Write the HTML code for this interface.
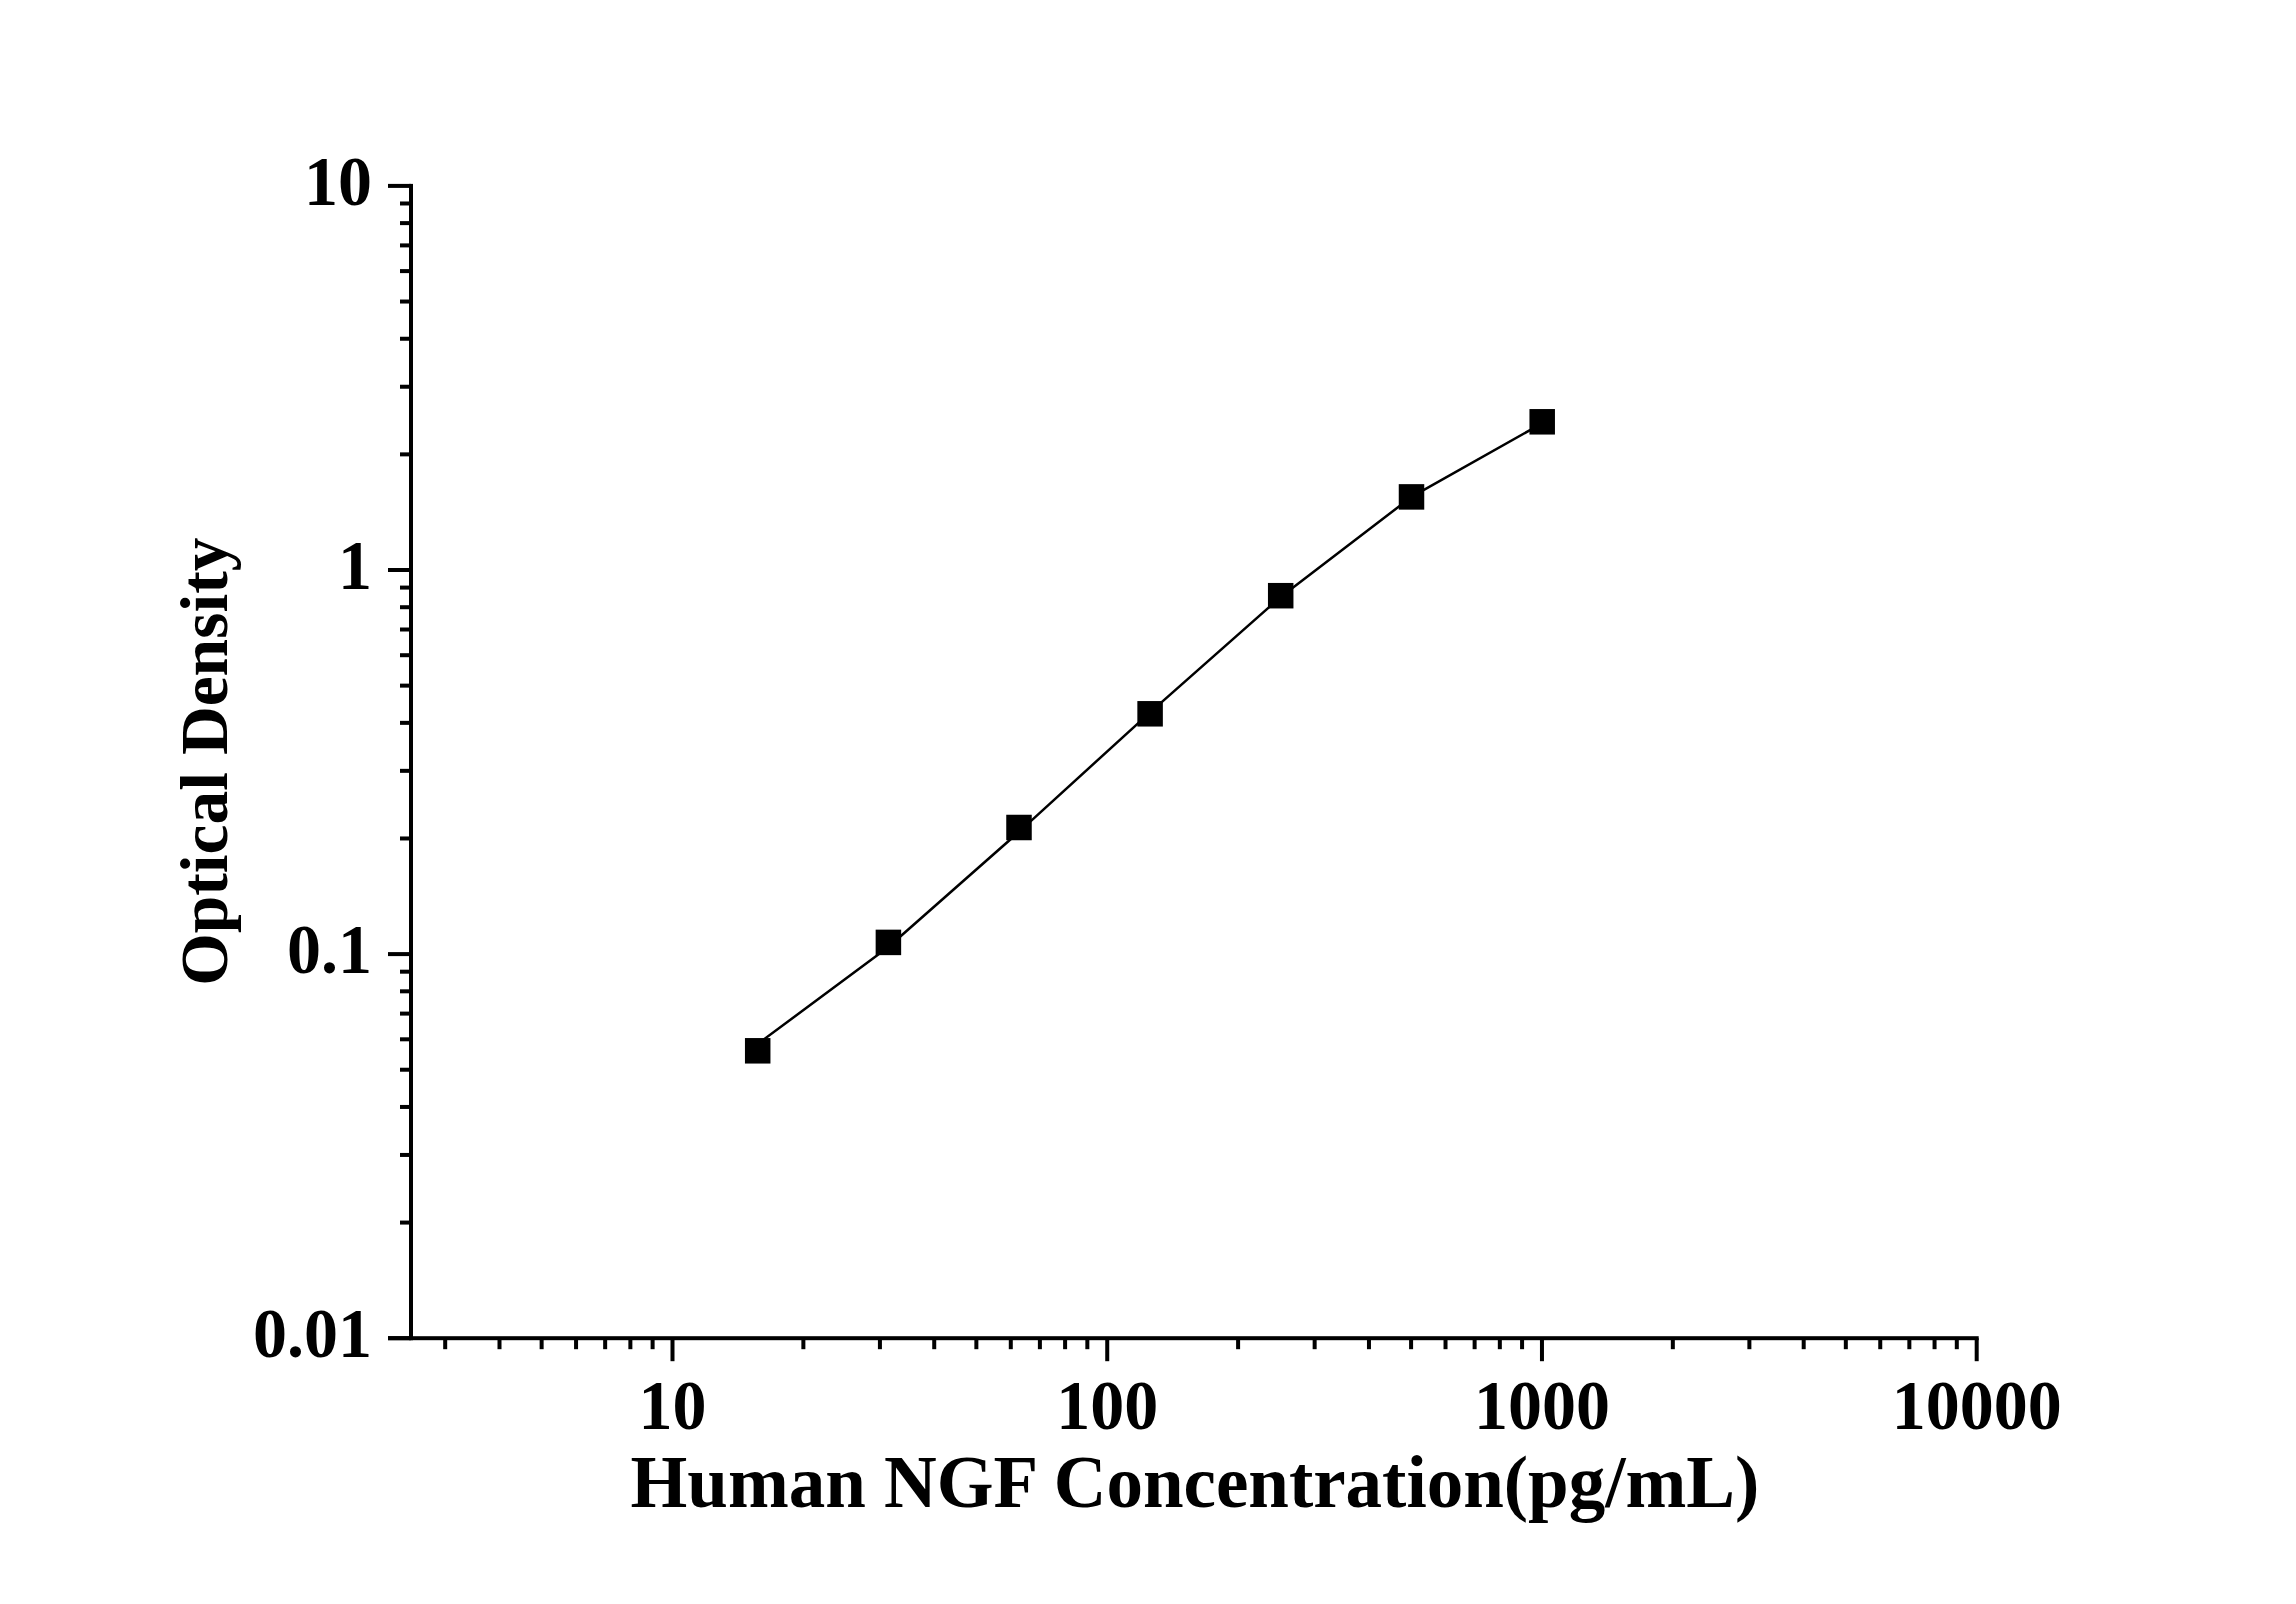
<!DOCTYPE html>
<html><head><meta charset="utf-8"><style>
html,body{margin:0;padding:0;background:#fff;overflow:hidden}
svg{display:block}
text{font-family:"Liberation Serif",serif;font-weight:bold}
</style></head><body>
<svg width="2296" height="1604" viewBox="0 0 2296 1604">
<rect width="2296" height="1604" fill="#fff"/>
<g fill="#000">
<rect x="409.00" y="183.90" width="4" height="1156.30"/>
<rect x="388.00" y="1336.20" width="1590.69" height="4"/>
<rect x="388.00" y="1336.20" width="23" height="4"/>
<rect x="400.00" y="1220.57" width="11" height="4"/>
<rect x="400.00" y="1152.94" width="11" height="4"/>
<rect x="400.00" y="1104.95" width="11" height="4"/>
<rect x="400.00" y="1067.73" width="11" height="4"/>
<rect x="400.00" y="1037.31" width="11" height="4"/>
<rect x="400.00" y="1011.60" width="11" height="4"/>
<rect x="400.00" y="989.32" width="11" height="4"/>
<rect x="400.00" y="969.68" width="11" height="4"/>
<rect x="388.00" y="952.10" width="23" height="4"/>
<rect x="400.00" y="836.47" width="11" height="4"/>
<rect x="400.00" y="768.84" width="11" height="4"/>
<rect x="400.00" y="720.85" width="11" height="4"/>
<rect x="400.00" y="683.63" width="11" height="4"/>
<rect x="400.00" y="653.21" width="11" height="4"/>
<rect x="400.00" y="627.50" width="11" height="4"/>
<rect x="400.00" y="605.22" width="11" height="4"/>
<rect x="400.00" y="585.58" width="11" height="4"/>
<rect x="388.00" y="568.00" width="23" height="4"/>
<rect x="400.00" y="452.37" width="11" height="4"/>
<rect x="400.00" y="384.74" width="11" height="4"/>
<rect x="400.00" y="336.75" width="11" height="4"/>
<rect x="400.00" y="299.53" width="11" height="4"/>
<rect x="400.00" y="269.11" width="11" height="4"/>
<rect x="400.00" y="243.40" width="11" height="4"/>
<rect x="400.00" y="221.12" width="11" height="4"/>
<rect x="400.00" y="201.48" width="11" height="4"/>
<rect x="388.00" y="183.90" width="23" height="4"/>
<rect x="443.19" y="1338.20" width="4" height="11"/>
<rect x="497.50" y="1338.20" width="4" height="11"/>
<rect x="539.63" y="1338.20" width="4" height="11"/>
<rect x="574.06" y="1338.20" width="4" height="11"/>
<rect x="603.16" y="1338.20" width="4" height="11"/>
<rect x="628.37" y="1338.20" width="4" height="11"/>
<rect x="650.61" y="1338.20" width="4" height="11"/>
<rect x="670.50" y="1338.20" width="4" height="23"/>
<rect x="801.37" y="1338.20" width="4" height="11"/>
<rect x="877.92" y="1338.20" width="4" height="11"/>
<rect x="932.23" y="1338.20" width="4" height="11"/>
<rect x="974.36" y="1338.20" width="4" height="11"/>
<rect x="1008.79" y="1338.20" width="4" height="11"/>
<rect x="1037.89" y="1338.20" width="4" height="11"/>
<rect x="1063.10" y="1338.20" width="4" height="11"/>
<rect x="1085.34" y="1338.20" width="4" height="11"/>
<rect x="1105.23" y="1338.20" width="4" height="23"/>
<rect x="1236.10" y="1338.20" width="4" height="11"/>
<rect x="1312.65" y="1338.20" width="4" height="11"/>
<rect x="1366.96" y="1338.20" width="4" height="11"/>
<rect x="1409.09" y="1338.20" width="4" height="11"/>
<rect x="1443.52" y="1338.20" width="4" height="11"/>
<rect x="1472.62" y="1338.20" width="4" height="11"/>
<rect x="1497.83" y="1338.20" width="4" height="11"/>
<rect x="1520.07" y="1338.20" width="4" height="11"/>
<rect x="1539.96" y="1338.20" width="4" height="23"/>
<rect x="1670.83" y="1338.20" width="4" height="11"/>
<rect x="1747.38" y="1338.20" width="4" height="11"/>
<rect x="1801.69" y="1338.20" width="4" height="11"/>
<rect x="1843.82" y="1338.20" width="4" height="11"/>
<rect x="1878.25" y="1338.20" width="4" height="11"/>
<rect x="1907.35" y="1338.20" width="4" height="11"/>
<rect x="1932.56" y="1338.20" width="4" height="11"/>
<rect x="1954.80" y="1338.20" width="4" height="11"/>
<rect x="1974.69" y="1338.20" width="4" height="23"/>
<polyline fill="none" stroke="#000" stroke-width="2.5" stroke-linejoin="round" points="757.7,1044.0 888.4,947.0 1019.0,831.9 1150.1,712.3 1280.7,597.0 1411.5,496.9 1542.2,423.3"/>
<rect x="744.95" y="1038.05" width="25.5" height="25.5"/>
<rect x="875.65" y="929.65" width="25.5" height="25.5"/>
<rect x="1006.25" y="814.75" width="25.5" height="25.5"/>
<rect x="1137.35" y="701.05" width="25.5" height="25.5"/>
<rect x="1267.95" y="582.95" width="25.5" height="25.5"/>
<rect x="1398.75" y="484.15" width="25.5" height="25.5"/>
<rect x="1529.45" y="409.05" width="25.5" height="25.5"/>
<text transform="translate(372.0,205.10) scale(1,1.02)" text-anchor="end" font-size="68" font-family="Liberation Serif" font-weight="bold">10</text>
<text transform="translate(372.0,589.20) scale(1,1.02)" text-anchor="end" font-size="68" font-family="Liberation Serif" font-weight="bold">1</text>
<text transform="translate(372.0,973.30) scale(1,1.02)" text-anchor="end" font-size="68" font-family="Liberation Serif" font-weight="bold">0.1</text>
<text transform="translate(372.0,1357.40) scale(1,1.02)" text-anchor="end" font-size="68" font-family="Liberation Serif" font-weight="bold">0.01</text>
<text transform="translate(672.50,1429.4) scale(1,1.02)" text-anchor="middle" font-size="68" font-family="Liberation Serif" font-weight="bold">10</text>
<text transform="translate(1107.23,1429.4) scale(1,1.02)" text-anchor="middle" font-size="68" font-family="Liberation Serif" font-weight="bold">100</text>
<text transform="translate(1541.96,1429.4) scale(1,1.02)" text-anchor="middle" font-size="68" font-family="Liberation Serif" font-weight="bold">1000</text>
<text transform="translate(1976.69,1429.4) scale(1,1.02)" text-anchor="middle" font-size="68" font-family="Liberation Serif" font-weight="bold">10000</text>
<text x="630.5" y="1507.3" font-size="73" font-family="Liberation Serif" font-weight="bold">Human NGF Concentration(pg/mL)</text>
<text transform="translate(227,985.7) rotate(-90)" x="0" y="0" font-size="67.5" font-family="Liberation Serif" font-weight="bold">Optical Density</text>
</g>
</svg>
</body></html>
